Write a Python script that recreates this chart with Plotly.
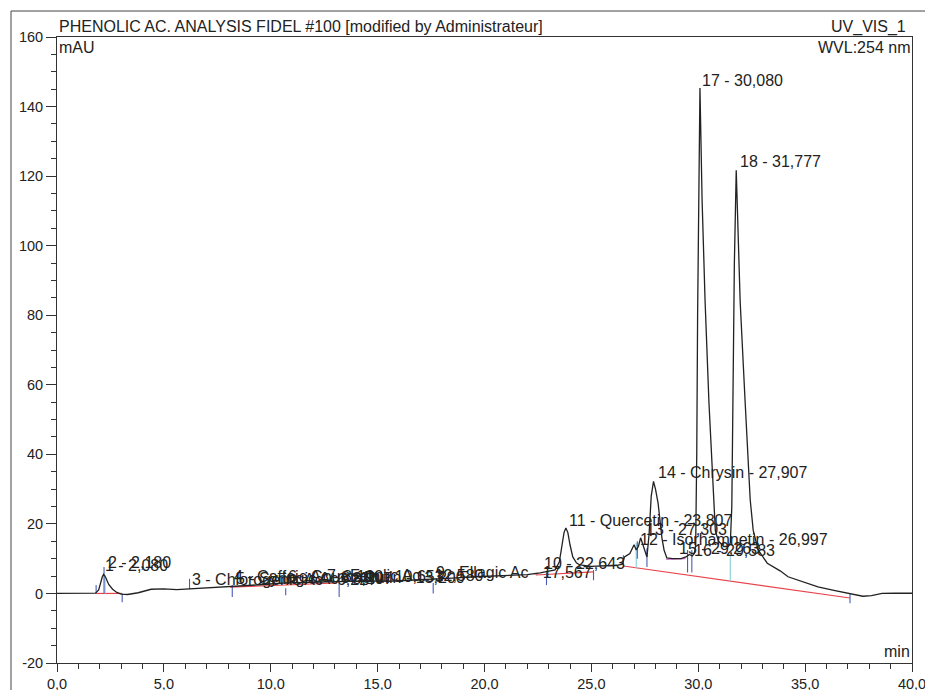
import plotly.graph_objects as go

# ---------------- data ----------------
time_min = [0.0, 1.0, 1.8, 1.95, 2.05, 2.12, 2.18, 2.28, 2.42, 2.6, 2.8, 3.0, 3.3, 3.8,
            4.4, 5.0, 5.6, 6.2, 7.0, 8.2, 9.5, 10.6, 11.5, 12.5, 13.5, 14.5, 15.5, 16.5,
            17.6, 18.5, 19.5, 20.5, 21.5, 22.0, 22.6, 23.0, 23.3, 23.5, 23.62, 23.72,
            23.807, 23.9, 24.0, 24.13, 24.3, 24.46, 25.0, 25.6, 26.2, 26.45, 26.55, 26.8,
            26.997, 27.1, 27.2, 27.303, 27.42, 27.6, 27.7, 27.8, 27.907, 28.0, 28.12,
            28.2, 28.3, 28.4, 28.53, 28.8, 29.2, 29.45, 29.583, 29.72, 29.82, 29.88,
            29.93, 29.97, 30.02, 30.08, 30.18, 30.32, 30.5, 30.64, 30.72, 30.8, 30.95,
            31.2, 31.4, 31.5, 31.57, 31.63, 31.69, 31.777, 31.85, 31.96, 32.19, 32.43,
            32.57, 32.8, 33.23, 33.83, 34.2, 35.0, 35.6, 36.4, 37.0, 37.4, 37.7, 38.1,
            38.6, 39.2, 40.0]
signal_mau = [0.0, 0.05, 0.1, 1.0, 3.5, 4.8, 5.5, 4.6, 2.6, 1.2, 0.3, -0.2, -0.3, 0.2,
              1.2, 1.3, 1.1, 1.3, 1.6, 2.1, 2.5, 3.0, 3.1, 3.3, 3.5, 3.6, 3.5, 3.8,
              4.0, 4.4, 4.8, 5.0, 5.1, 5.4, 5.9, 6.3, 6.8, 9.0, 13.5, 17.5,
              18.8, 17.5, 14.0, 10.5, 8.8, 8.2, 7.8, 7.9, 8.1, 8.4, 10.5, 11.5,
              14.0, 12.5, 13.5, 16.0, 14.0, 10.5, 17.0, 28.0, 32.2, 30.0, 26.0,
              21.0, 16.0, 12.5, 10.2, 10.0, 10.0, 10.6, 11.2, 10.8, 11.5, 14.0,
              40.0, 80.0, 120.0, 145.3, 113.0, 84.0, 55.0, 36.0, 26.0, 18.0, 15.0,
              13.5, 13.5, 14.5, 25.0, 60.0, 95.0, 121.7, 108.0, 84.0, 55.5, 27.0,
              18.2, 12.5, 8.7, 6.5, 4.8, 3.2, 1.9, 0.8, 0.1, -0.5, -0.8, -0.6,
              0.0, 0.05, 0.05]

peak_labels = ["1 - 2,080", "2 - 2,180", "3 - Chlorogenic Ac - 6,227", "4 - Caffeic Ac - 8,120",
               "5 - Syringic Ac - 8,207", "6 - Coumarin - 10,653", "7 - Ferulic Ac - 12,580",
               "8 - Rutin - 13,200", "9 - Ellagic Ac - 17,567", "10 - 22,643",
               "11 - Quercetin - 23,807", "12 - Isorhamnetin - 26,997", "13 - 27,303",
               "14 - Chrysin - 27,907", "15 - 29,263", "16 - 29,583", "17 - 30,080",
               "18 - 31,777"]
label_t = [2.15, 2.28, 6.24, 8.2, 8.3, 10.7, 12.55, 13.2, 17.63, 22.7,
           23.87, 27.2, 27.48, 28.04, 29.0, 29.7, 30.1, 31.85]
label_y = [7.9, 9.0, 4.0, 4.8, 4.4, 4.8, 5.2, 4.7, 5.9, 8.7,
           21.1, 15.6, 18.5, 34.9, 13.0, 12.4, 147.6, 124.3]

# peak delimiter marks (blue) and drop lines (cyan)
delim_t = [1.83, 2.2, 3.05, 6.2, 8.2, 10.7, 13.2, 17.6, 22.9, 25.1, 26.5, 27.15, 27.6,
           29.5, 29.7, 37.1]
delim_lo = [0.0, 0.0, -2.5, 1.2, -1.0, -0.5, -1.0, 0.0, 2.4, 3.8, 8.0, 10.0, 7.6,
            6.0, 6.0, -2.8]
delim_hi = [2.4, 7.6, 0.0, 4.2, 2.4, 1.5, 3.0, 3.0, 6.1, 6.7, 11.0, 15.0, 13.0,
            12.5, 12.5, 0.0]
drop_t = [2.25, 27.1, 31.5]
drop_lo = [0.0, 7.4, 3.6]
drop_hi = [5.3, 14.5, 11.0]

# integration baselines
base_t0 = [1.83, 8.1, 22.4, 26.5]
base_y0 = [0.0, 1.8, 5.3, 7.9]
base_t1 = [3.05, 13.1, 25.1, 37.1]
base_y1 = [0.0, 3.0, 6.2, -1.3]
pink_t = [28.5, 29.4]
pink_y = [9.8, 10.0]

x_ticks = [0, 5, 10, 15, 20, 25, 30, 35, 40]
x_tick_text = ["0,0", "5,0", "10,0", "15,0", "20,0", "25,0", "30,0", "35,0", "40,0"]
y_ticks = [-20, 0, 20, 40, 60, 80, 100, 120, 140, 160]
y_tick_text = ["-20", "0", "20", "40", "60", "80", "100", "120", "140", "160"]


def segs(t0, y0, t1, y1):
    xs, ys = [], []
    for a, b, c, d in zip(t0, y0, t1, y1):
        xs += [a, c, None]
        ys += [b, d, None]
    return xs, ys


def vlines(t, lo, hi):
    xs, ys = [], []
    for a, b, c in zip(t, lo, hi):
        xs += [a, a, None]
        ys += [b, c, None]
    return xs, ys


FONT = "Liberation Sans, Arial, sans-serif"

fig = go.Figure()

bx, by = segs(base_t0, base_y0, base_t1, base_y1)
fig.add_trace(go.Scatter(x=bx, y=by, mode="lines", line=dict(color="#e8434b", width=1.2),
                         hoverinfo="skip", showlegend=False))
fig.add_trace(go.Scatter(x=pink_t, y=pink_y, mode="lines", line=dict(color="#d66fd0", width=1.2),
                         hoverinfo="skip", showlegend=False))
dx, dy = vlines(drop_t, drop_lo, drop_hi)
fig.add_trace(go.Scatter(x=dx, y=dy, mode="lines", line=dict(color="#8fd3de", width=1.2),
                         hoverinfo="skip", showlegend=False))
mx, my = vlines(delim_t, delim_lo, delim_hi)
fig.add_trace(go.Scatter(x=mx, y=my, mode="lines", line=dict(color="#4a5bb8", width=1.1),
                         hoverinfo="skip", showlegend=False))
fig.add_trace(go.Scatter(x=time_min, y=signal_mau, mode="lines",
                         line=dict(color="#222222", width=1.3),
                         showlegend=False))

for txt, t, y in zip(peak_labels, label_t, label_y):
    fig.add_annotation(x=t, y=y, text=txt, showarrow=False, xanchor="left", yanchor="middle",
                       font=dict(family=FONT, size=16, color="#222222"))

# header / units texts
fig.add_annotation(xref="paper", yref="paper", x=0.0, y=1.016, text="PHENOLIC AC. ANALYSIS FIDEL #100 [modified by Administrateur]",
                   showarrow=False, xanchor="left", yanchor="middle",
                   font=dict(family=FONT, size=16, color="#222222"))
fig.add_annotation(xref="paper", yref="paper", x=0.995, y=1.016, text="UV_VIS_1",
                   showarrow=False, xanchor="right", yanchor="middle",
                   font=dict(family=FONT, size=16, color="#222222"))
fig.add_annotation(xref="paper", yref="paper", x=0.0, y=0.984, text="mAU",
                   showarrow=False, xanchor="left", yanchor="middle",
                   font=dict(family=FONT, size=16, color="#222222"))
fig.add_annotation(xref="paper", yref="paper", x=1.0, y=0.984, text="WVL:254 nm",
                   showarrow=False, xanchor="right", yanchor="middle",
                   font=dict(family=FONT, size=16, color="#222222"))
fig.add_annotation(xref="paper", yref="paper", x=1.0, y=0.019, text="min",
                   showarrow=False, xanchor="right", yanchor="middle",
                   font=dict(family=FONT, size=16, color="#222222"))

# outer frame lines
fig.add_shape(type="line", xref="paper", yref="paper", x0=-0.0538, x1=-0.0538, y0=1.0415, y1=-0.1,
              line=dict(color="#444444", width=1))
fig.add_shape(type="line", xref="paper", yref="paper", x0=-0.0538, x1=1.1, y0=1.0415, y1=1.0415,
              line=dict(color="#444444", width=1))

fig.update_layout(
    width=925, height=690,
    margin=dict(l=57, r=13, t=37, b=27, autoexpand=False),
    paper_bgcolor="white", plot_bgcolor="white",
    font=dict(family=FONT, size=16, color="#222222"),
    xaxis=dict(range=[0, 40], tickvals=x_ticks, ticktext=x_tick_text, ticks="outside", ticklen=8,
               tickcolor="#333333", showline=True, linecolor="#333333", linewidth=1, mirror=True,
               showgrid=False, zeroline=False, automargin=False, ticklabeloverflow="allow",
               tickfont=dict(family=FONT, size=14.5, color="#222222"),
               minor=dict(dtick=1, ticks="outside", ticklen=5, tickcolor="#333333")),
    yaxis=dict(range=[-20, 160], tickvals=y_ticks, ticktext=y_tick_text, ticks="outside", ticklen=10,
               tickcolor="#333333", showline=True, linecolor="#333333", linewidth=1, mirror=True,
               showgrid=False, zeroline=False, automargin=False,
               tickfont=dict(family=FONT, size=14.5, color="#222222"),
               minor=dict(dtick=5, ticks="outside", ticklen=5, tickcolor="#333333")),
)

fig.write_html("out.html", config={"displayModeBar": False},
               post_script="document.body.style.margin='0';document.body.style.overflow='hidden';")
